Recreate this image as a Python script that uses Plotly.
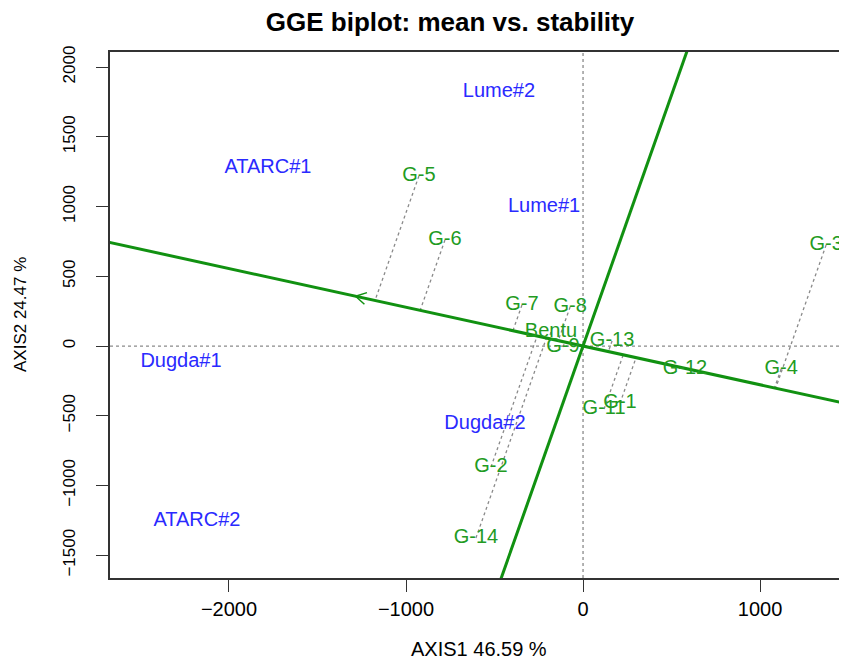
import numpy as np
import plotly.graph_objects as go

# ---------------- data ----------------
env_names = ["Lume#2", "ATARC#1", "Lume#1", "Dugda#1", "Dugda#2", "ATARC#2"]
env_x = [-475, -1780, -220, -2271, -554, -2181]
env_y = [1821, 1276, 996, -115, -559, -1254]

gen_names = ["G-1", "G-2", "G-3", "G-4", "G-5", "G-6", "G-7", "G-8", "G-9",
             "Bentu", "G-11", "G-12", "G-13", "G-14"]
gen_x = [209, -520, 1373, 1119, -927, -780, -345, -73, -113, -181, 119, 576, 164, -605]
gen_y = [-409, -867, 724, -165, 1219, 760, 294, 280, -7, 100, -452, -165, 36, -1376]

avg_env = (-1285, 357)   # average environment coordinates (AEC arrow tip)

x_ticks = [-2000, -1000, 0, 1000]
y_ticks = [-1500, -1000, -500, 0, 500, 1000, 1500, 2000]
x_range = [-2672, 1491]
y_range = [-1663, 2108]

title_text = "GGE biplot: mean vs. stability"
x_title = "AXIS1 46.59 %"
y_title = "AXIS2 24.47 %"

# ---------------- styles ----------------
OFF = 8                      # page body margin of the html page
W, H = 847 - OFF, 659 - OFF  # figure fits in the window
ML, MR, MT, MB = 110 - OFF, 0, 52 - OFF, 81
FONT = "Liberation Sans, Arial, sans-serif"
GREEN_LINE = "#119111"
GREEN_TXT = "#229b22"
BLUE_TXT = "#2a2aff"
GRAY = "#8a8a8a"

fig = go.Figure()

ax, ay = avg_env
norm = np.hypot(ax, ay)
ux, uy = ax / norm, ay / norm

# projection (dotted) lines from genotypes onto the AEC abscissa
px_, py_ = [], []
for gx, gy in zip(gen_x, gen_y):
    d = gx * ux + gy * uy
    px_ += [gx, d * ux, None]
    py_ += [gy, d * uy, None]
fig.add_trace(go.Scatter(x=px_, y=py_, mode="lines",
                         line=dict(color=GRAY, width=1.3, dash="dot"),
                         hoverinfo="skip", showlegend=False))

# AEC abscissa and ordinate through origin
T = 8000
fig.add_trace(go.Scatter(x=[-T * ux, T * ux], y=[-T * uy, T * uy], mode="lines",
                         line=dict(color=GREEN_LINE, width=3),
                         hoverinfo="skip", showlegend=False))
fig.add_trace(go.Scatter(x=[T * uy, -T * uy], y=[-T * ux, T * ux], mode="lines",
                         line=dict(color=GREEN_LINE, width=3),
                         hoverinfo="skip", showlegend=False))

# open arrow head at the average environment
plot_w = W - ML - MR
plot_h = H - MT - MB
sx = plot_w / (x_range[1] - x_range[0])
sy = plot_h / (y_range[1] - y_range[0])
bx, by = -ax * sx, -ay * sy
bn = np.hypot(bx, by)
bx, by = bx / bn, by / bn
L = 12
arm = []
for ang in (np.radians(30), -np.radians(30)):
    rx = bx * np.cos(ang) - by * np.sin(ang)
    ry = bx * np.sin(ang) + by * np.cos(ang)
    arm.append((ax + L * rx / sx, ay + L * ry / sy))
fig.add_trace(go.Scatter(x=[arm[0][0], ax, arm[1][0]], y=[arm[0][1], ay, arm[1][1]],
                         mode="lines", line=dict(color=GREEN_LINE, width=1.5),
                         hoverinfo="skip", showlegend=False))

# labels
fig.add_trace(go.Scatter(x=gen_x, y=gen_y, mode="text", text=gen_names,
                         textposition="middle center",
                         textfont=dict(family=FONT, size=20, color=GREEN_TXT),
                         showlegend=False, cliponaxis=False))
fig.add_trace(go.Scatter(x=env_x, y=env_y, mode="text", text=env_names,
                         textposition="middle center",
                         textfont=dict(family=FONT, size=20, color=BLUE_TXT),
                         showlegend=False, cliponaxis=False))

# zero reference lines
fig.add_shape(type="line", xref="paper", yref="y", x0=0, x1=1, y0=0, y1=0,
              line=dict(color=GRAY, width=1.3, dash="dot"), layer="below")
fig.add_shape(type="line", xref="x", yref="paper", x0=0, x1=0, y0=0, y1=1,
              line=dict(color=GRAY, width=1.3, dash="dot"), layer="below")

# axis titles
fig.add_annotation(text=x_title, xref="paper", yref="paper", x=0.5,
                   y=-((649 - OFF) - (H - MB)) / plot_h, xanchor="center",
                   yanchor="middle", showarrow=False,
                   font=dict(family=FONT, size=20, color="black"))
fig.add_annotation(text=y_title, xref="paper", yref="paper",
                   x=((20 - OFF) - ML) / plot_w, y=0.5, xanchor="center",
                   yanchor="middle", textangle=-90, showarrow=False,
                   font=dict(family=FONT, size=17, color="black"))

fig.update_layout(
    width=W, height=H,
    margin=dict(l=ML, r=MR, t=MT, b=MB, autoexpand=False),
    paper_bgcolor="white", plot_bgcolor="white",
    title=dict(text="<b>" + title_text + "</b>", x=(450 - OFF) / W, xref="container",
               xanchor="center", y=1 - (22 - OFF) / H, yref="container",
               yanchor="middle",
               font=dict(family=FONT, size=26, color="black"), automargin=False),
    font=dict(family=FONT, color="black"),
    xaxis=dict(range=x_range, tickvals=x_ticks, ticks="outside", ticklen=12,
               tickwidth=1.3, tickcolor="#333", showline=True, linecolor="#333",
               linewidth=1.5, mirror=True, showgrid=False, zeroline=False,
               tickfont=dict(size=20), ticklabelstandoff=0, automargin=False),
    yaxis=dict(range=y_range, tickvals=y_ticks, ticks="outside", ticklen=12,
               tickwidth=1.3, tickcolor="#333", showline=True, linecolor="#333",
               linewidth=1.5, showgrid=False, zeroline=False, tickangle=-90,
               tickfont=dict(size=17), ticklabelstandoff=14, automargin=False),
)

# the 8px bottom body margin makes the page taller than the window; hide scrollbars
fig.write_html("out.html",
               post_script="document.documentElement.style.overflow='hidden';"
                           "document.body.style.overflow='hidden';")
